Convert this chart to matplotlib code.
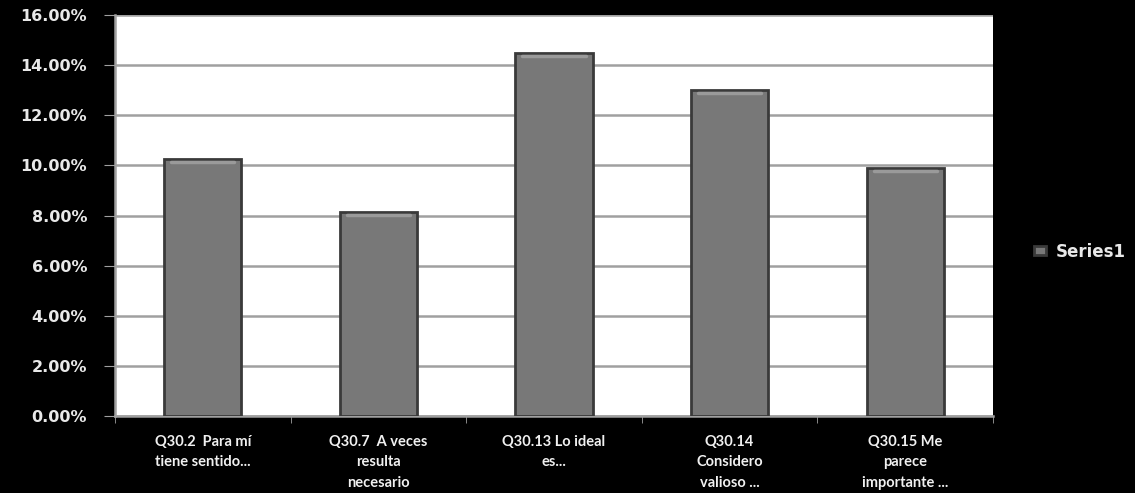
import matplotlib.pyplot as plt
import numpy as np

# Chart data
categories = ["Q30.2  Para mí\ntiene sentido...", "Q30.7  A veces\nresulta\nnecesario",
              "Q30.13 Lo ideal\nes...", "Q30.14\nConsidero\nvalioso ...",
              "Q30.15 Me\nparece\nimportante ..."]
values = [10.25, 8.15, 14.5, 13.0, 9.9]  # percent
yticks = [0, 2, 4, 6, 8, 10, 12, 14, 16]
series_name = "Series1"

fig = plt.figure(figsize=(11.35, 4.93), dpi=100, facecolor='black')
ax = fig.add_axes([115 / 1135, 1 - 416 / 493, (993 - 115) / 1135, (416 - 15) / 493])
ax.set_facecolor('white')

x = np.arange(len(categories))
bars = ax.bar(x, values, width=0.44, color='#787878', edgecolor='#3a3a3a',
              linewidth=2, label=series_name, zorder=3)
# light cap at the top of each bar for the bevel look
for b in bars:
    ax.plot([b.get_x() + 0.04, b.get_x() + b.get_width() - 0.04],
            [b.get_height() - 0.12] * 2, color='#9a9a9a', lw=2.5, zorder=4,
            solid_capstyle='round')

ax.set_xlim(-0.5, len(categories) - 0.5)
ax.set_ylim(0, 16)
ax.set_yticks(yticks)
ax.set_yticklabels([f"{v:.2f}%" for v in yticks], color='#e8e8e8', fontsize=11.5,
                   fontweight='bold')
ax.yaxis.grid(True, color='#a0a0a0', lw=1.8, zorder=0)
ax.set_axisbelow(True)

ax.set_xticks(x)
ax.set_xticklabels(categories, color='#f0f0f0', fontsize=10.5, fontweight='bold',
                   family=['Lato', 'DejaVu Sans'], linespacing=1.55)
ax.set_xticks(np.arange(-0.5, len(categories)), minor=True)
ax.tick_params(axis='x', which='major', length=0, pad=14)
ax.tick_params(axis='x', which='minor', length=5, color='#a0a0a0')
ax.tick_params(axis='y', length=8, color='#a0a0a0', pad=12)

for side in ['top', 'right']:
    ax.spines[side].set_visible(False)
ax.spines['left'].set_color('#a0a0a0')
ax.spines['left'].set_linewidth(1.8)
ax.spines['bottom'].set_color('#a0a0a0')
ax.spines['bottom'].set_linewidth(1.8)

leg = ax.legend(loc='center left', bbox_to_anchor=(1.03, 0.41), frameon=False,
                handlelength=0.7, handleheight=0.5, handletextpad=0.6, fontsize=12)
for t in leg.get_texts():
    t.set_color('#e8e8e8')
    t.set_fontweight('bold')

plt.savefig('out.png', dpi=100, facecolor='black')
